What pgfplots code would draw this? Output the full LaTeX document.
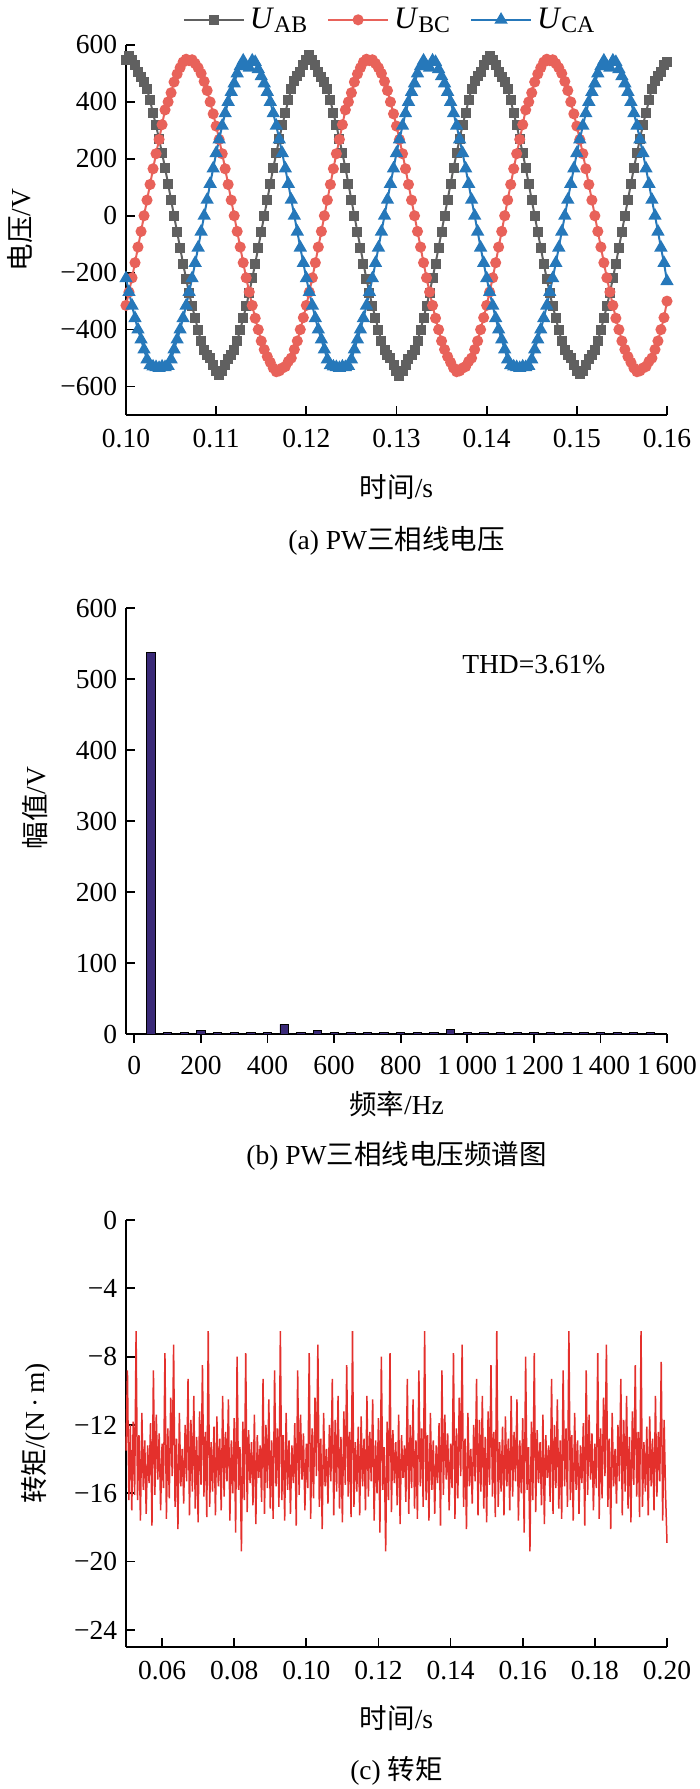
\documentclass[border=0pt]{standalone}
\usepackage{fontspec}
\setmainfont{Liberation Serif}
\newfontfamily\cjk{Noto Sans CJK SC}
\usepackage{pgfplots}
\pgfplotsset{compat=1.18}
\usepackage{pgfplotstable}

\definecolor{cAB}{RGB}{96,96,96}
\definecolor{cBC}{RGB}{232,98,90}
\definecolor{cCA}{RGB}{38,120,186}
\definecolor{cBar}{RGB}{58,42,120}
\definecolor{cTq}{RGB}{228,48,44}

\pgfplotstableread{
t AB BC CA
0.10000 548 -315 -220
0.10033 562 -268 -268
0.10067 548 -218 -316
0.10100 530 -165 -360
0.10133 505 -110 -400
0.10167 488 -55 -435
0.10200 470 0 -470
0.10233 445 55 -505
0.10267 405 110 -525
0.10300 360 165 -530
0.10333 318 218 -532
0.10367 268 268 -535
0.10400 220 320 -530
0.10433 168 372 -532
0.10467 112 400 -528
0.10500 55 432 -505
0.10533 0 470 -470
0.10567 -58 498 -435
0.10600 -112 520 -400
0.10633 -168 540 -360
0.10667 -222 550 -316
0.10700 -272 545 -268
0.10733 -318 548 -220
0.10767 -360 535 -166
0.10800 -402 520 -112
0.10833 -440 500 -56
0.10867 -470 472 0
0.10900 -488 440 56
0.10933 -500 400 112
0.10967 -525 358 166
0.11000 -545 315 220
0.11033 -558 268 268
0.11067 -545 218 316
0.11100 -525 165 360
0.11133 -505 110 400
0.11167 -490 55 435
0.11200 -470 0 465
0.11233 -440 -55 500
0.11267 -400 -110 525
0.11300 -360 -165 545
0.11333 -318 -218 525
0.11367 -270 -268 520
0.11400 -220 -315 545
0.11433 -168 -360 540
0.11467 -112 -400 515
0.11500 -56 -440 490
0.11533 0 -470 465
0.11567 56 -495 435
0.11600 112 -515 400
0.11633 168 -535 360
0.11667 220 -548 316
0.11700 270 -545 268
0.11733 318 -535 220
0.11767 362 -530 166
0.11800 405 -512 112
0.11833 445 -500 56
0.11867 475 -470 0
0.11900 490 -440 -56
0.11933 505 -400 -112
0.11967 528 -358 -166
0.12000 548 -315 -220
0.12033 565 -268 -268
0.12067 548 -218 -316
0.12100 530 -165 -360
0.12133 505 -110 -400
0.12167 488 -55 -435
0.12200 470 0 -470
0.12233 445 55 -505
0.12267 405 110 -525
0.12300 360 165 -530
0.12333 318 218 -532
0.12367 268 268 -535
0.12400 220 320 -530
0.12433 168 372 -532
0.12467 112 400 -528
0.12500 55 432 -505
0.12533 0 470 -470
0.12567 -58 498 -435
0.12600 -112 520 -400
0.12633 -168 540 -360
0.12667 -222 550 -316
0.12700 -272 545 -268
0.12733 -318 548 -220
0.12767 -360 535 -166
0.12800 -402 520 -112
0.12833 -440 500 -56
0.12867 -470 472 0
0.12900 -488 440 56
0.12933 -500 400 112
0.12967 -525 358 166
0.13000 -545 315 220
0.13033 -562 268 268
0.13067 -545 218 316
0.13100 -525 165 360
0.13133 -505 110 400
0.13167 -490 55 435
0.13200 -470 0 465
0.13233 -440 -55 500
0.13267 -400 -110 525
0.13300 -360 -165 545
0.13333 -318 -218 525
0.13367 -270 -268 520
0.13400 -220 -315 545
0.13433 -168 -360 540
0.13467 -112 -400 515
0.13500 -56 -440 490
0.13533 0 -470 465
0.13567 56 -495 435
0.13600 112 -515 400
0.13633 168 -535 360
0.13667 220 -548 316
0.13700 270 -545 268
0.13733 318 -535 220
0.13767 362 -530 166
0.13800 405 -512 112
0.13833 445 -500 56
0.13867 475 -470 0
0.13900 490 -440 -56
0.13933 505 -400 -112
0.13967 528 -358 -166
0.14000 548 -315 -220
0.14033 563 -268 -268
0.14067 548 -218 -316
0.14100 530 -165 -360
0.14133 505 -110 -400
0.14167 488 -55 -435
0.14200 470 0 -470
0.14233 445 55 -505
0.14267 405 110 -525
0.14300 360 165 -530
0.14333 318 218 -532
0.14367 268 268 -535
0.14400 220 320 -530
0.14433 168 372 -532
0.14467 112 400 -528
0.14500 55 432 -505
0.14533 0 470 -470
0.14567 -58 498 -435
0.14600 -112 520 -400
0.14633 -168 540 -360
0.14667 -222 550 -316
0.14700 -272 545 -268
0.14733 -318 548 -220
0.14767 -360 535 -166
0.14800 -402 520 -112
0.14833 -440 500 -56
0.14867 -470 472 0
0.14900 -488 440 56
0.14933 -500 400 112
0.14967 -525 358 166
0.15000 -545 315 220
0.15033 -556 268 268
0.15067 -545 218 316
0.15100 -525 165 360
0.15133 -505 110 400
0.15167 -490 55 435
0.15200 -470 0 465
0.15233 -440 -55 500
0.15267 -400 -110 525
0.15300 -360 -165 545
0.15333 -318 -218 525
0.15367 -270 -268 520
0.15400 -220 -315 545
0.15433 -168 -360 540
0.15467 -112 -400 515
0.15500 -56 -440 490
0.15533 0 -470 465
0.15567 56 -495 435
0.15600 112 -515 400
0.15633 168 -535 360
0.15667 220 -548 316
0.15700 270 -545 268
0.15733 318 -535 220
0.15767 362 -530 166
0.15800 405 -512 112
0.15833 445 -500 56
0.15867 475 -470 0
0.15900 490 -440 -56
0.15933 505 -400 -112
0.15967 528 -358 -166
0.16000 540 -300 -230
}\voltdata

\pgfplotstableread{
f A
50 537
100 2.0
150 2.0
200 4.5
250 2.0
300 2.0
350 2.2
400 2.5
450 13.5
500 2.0
550 5.5
600 1.8
650 2.5
700 1.8
750 1.8
800 1.8
850 2.0
900 1.8
950 7
1000 1.8
1050 2.2
1100 2.0
1150 1.8
1200 1.8
1250 1.8
1300 1.8
1350 1.8
1400 2.0
1450 2.2
1500 1.8
1550 1.8
}\specdata

\pgfplotstableread[row sep=\\]{
t T\\
0.0500 -13.5\\ 0.0504 -8.8\\ 0.0508 -16.4\\ 0.0512 -12.0\\ 0.0516 -17.0\\ 0.0520 -11.8\\ 0.0524 -16.1\\
0.0528 -6.5\\ 0.0532 -16.4\\ 0.0536 -12.6\\ 0.0540 -17.6\\ 0.0544 -11.3\\ 0.0548 -15.8\\ 0.0552 -12.9\\ 0.0556 -17.2\\ 0.0560 -13.2\\ 0.0564 -15.4\\
0.0568 -11.9\\ 0.0572 -17.9\\ 0.0576 -8.8\\ 0.0580 -16.1\\ 0.0584 -11.4\\ 0.0588 -15.2\\ 0.0592 -12.5\\ 0.0596 -17.0\\ 0.0600 -13.1\\ 0.0604 -15.7\\
0.0608 -7.8\\ 0.0612 -17.5\\ 0.0616 -12.2\\ 0.0620 -16.3\\ 0.0624 -10.4\\ 0.0628 -15.0\\ 0.0632 -7.3\\ 0.0636 -16.8\\ 0.0640 -12.8\\ 0.0644 -18.1\\
0.0648 -11.3\\ 0.0652 -15.6\\ 0.0656 -13.4\\ 0.0660 -16.6\\ 0.0664 -12.0\\ 0.0668 -15.3\\ 0.0672 -9.3\\ 0.0676 -17.3\\ 0.0680 -11.7\\ 0.0684 -15.9\\
0.0688 -10.3\\ 0.0692 -16.9\\ 0.0696 -12.7\\ 0.0700 -17.7\\ 0.0704 -11.2\\ 0.0708 -15.5\\ 0.0712 -8.5\\ 0.0716 -16.2\\ 0.0720 -12.4\\ 0.0724 -17.4\\
0.0728 -6.5\\ 0.0732 -16.8\\ 0.0736 -13.0\\ 0.0740 -15.9\\ 0.0744 -12.1\\ 0.0748 -17.3\\ 0.0752 -11.5\\ 0.0756 -15.6\\ 0.0760 -12.8\\ 0.0764 -17.0\\
0.0768 -10.3\\ 0.0772 -16.2\\ 0.0776 -12.4\\ 0.0780 -15.3\\ 0.0784 -10.5\\ 0.0788 -17.6\\ 0.0792 -12.9\\ 0.0796 -16.0\\ 0.0800 -11.6\\ 0.0804 -18.3\\
0.0808 -8.0\\ 0.0812 -15.8\\ 0.0816 -13.3\\ 0.0820 -19.4\\ 0.0824 -11.8\\ 0.0828 -16.4\\ 0.0832 -7.8\\ 0.0836 -17.1\\ 0.0840 -12.3\\ 0.0844 -15.4\\
0.0848 -13.0\\ 0.0852 -16.7\\ 0.0856 -11.4\\ 0.0860 -17.8\\ 0.0864 -12.6\\ 0.0868 -15.1\\ 0.0872 -13.2\\ 0.0876 -16.5\\ 0.0880 -9.3\\ 0.0884 -17.2\\
0.0888 -12.0\\ 0.0892 -15.7\\ 0.0896 -10.5\\ 0.0900 -16.9\\ 0.0904 -12.9\\ 0.0908 -17.5\\ 0.0912 -8.8\\ 0.0916 -15.6\\ 0.0920 -12.2\\ 0.0924 -16.8\\
0.0928 -6.5\\ 0.0932 -16.4\\ 0.0936 -12.6\\ 0.0940 -17.6\\ 0.0944 -11.3\\ 0.0948 -15.8\\ 0.0952 -12.9\\ 0.0956 -17.2\\ 0.0960 -13.2\\ 0.0964 -15.4\\
0.0968 -11.9\\ 0.0972 -17.9\\ 0.0976 -8.8\\ 0.0980 -16.1\\ 0.0984 -11.4\\ 0.0988 -15.2\\ 0.0992 -12.5\\ 0.0996 -17.0\\ 0.1000 -13.1\\ 0.1004 -15.7\\
0.1008 -7.8\\ 0.1012 -17.5\\ 0.1016 -12.2\\ 0.1020 -16.3\\ 0.1024 -10.4\\ 0.1028 -15.0\\ 0.1032 -7.3\\ 0.1036 -16.8\\ 0.1040 -12.8\\ 0.1044 -18.1\\
0.1048 -11.3\\ 0.1052 -15.6\\ 0.1056 -13.4\\ 0.1060 -16.6\\ 0.1064 -12.0\\ 0.1068 -15.3\\ 0.1072 -9.3\\ 0.1076 -17.3\\ 0.1080 -11.7\\ 0.1084 -15.9\\
0.1088 -10.3\\ 0.1092 -16.9\\ 0.1096 -12.7\\ 0.1100 -17.7\\ 0.1104 -11.2\\ 0.1108 -15.5\\ 0.1112 -8.5\\ 0.1116 -16.2\\ 0.1120 -12.4\\ 0.1124 -17.4\\
0.1128 -6.5\\ 0.1132 -16.8\\ 0.1136 -13.0\\ 0.1140 -15.9\\ 0.1144 -12.1\\ 0.1148 -17.3\\ 0.1152 -11.5\\ 0.1156 -15.6\\ 0.1160 -12.8\\ 0.1164 -17.0\\
0.1168 -10.3\\ 0.1172 -16.2\\ 0.1176 -12.4\\ 0.1180 -15.3\\ 0.1184 -10.5\\ 0.1188 -17.6\\ 0.1192 -12.9\\ 0.1196 -16.0\\ 0.1200 -11.6\\ 0.1204 -18.3\\
0.1208 -8.0\\ 0.1212 -15.8\\ 0.1216 -13.3\\ 0.1220 -19.4\\ 0.1224 -11.8\\ 0.1228 -16.4\\ 0.1232 -7.8\\ 0.1236 -17.1\\ 0.1240 -12.3\\ 0.1244 -15.4\\
0.1248 -13.0\\ 0.1252 -16.7\\ 0.1256 -11.4\\ 0.1260 -17.8\\ 0.1264 -12.6\\ 0.1268 -15.1\\ 0.1272 -13.2\\ 0.1276 -16.5\\ 0.1280 -9.3\\ 0.1284 -17.2\\
0.1288 -12.0\\ 0.1292 -15.7\\ 0.1296 -10.5\\ 0.1300 -16.9\\ 0.1304 -12.9\\ 0.1308 -17.5\\ 0.1312 -8.8\\ 0.1316 -15.6\\ 0.1320 -12.2\\ 0.1324 -16.8\\
0.1328 -6.5\\ 0.1332 -16.4\\ 0.1336 -12.6\\ 0.1340 -17.6\\ 0.1344 -11.3\\ 0.1348 -15.8\\ 0.1352 -12.9\\ 0.1356 -17.2\\ 0.1360 -13.2\\ 0.1364 -15.4\\
0.1368 -11.9\\ 0.1372 -17.9\\ 0.1376 -8.8\\ 0.1380 -16.1\\ 0.1384 -11.4\\ 0.1388 -15.2\\ 0.1392 -12.5\\ 0.1396 -17.0\\ 0.1400 -13.1\\ 0.1404 -15.7\\
0.1408 -7.8\\ 0.1412 -17.5\\ 0.1416 -12.2\\ 0.1420 -16.3\\ 0.1424 -10.4\\ 0.1428 -15.0\\ 0.1432 -7.3\\ 0.1436 -16.8\\ 0.1440 -12.8\\ 0.1444 -18.1\\
0.1448 -11.3\\ 0.1452 -15.6\\ 0.1456 -13.4\\ 0.1460 -16.6\\ 0.1464 -12.0\\ 0.1468 -15.3\\ 0.1472 -9.3\\ 0.1476 -17.3\\ 0.1480 -11.7\\ 0.1484 -15.9\\
0.1488 -10.3\\ 0.1492 -16.9\\ 0.1496 -12.7\\ 0.1500 -17.7\\ 0.1504 -11.2\\ 0.1508 -15.5\\ 0.1512 -8.5\\ 0.1516 -16.2\\ 0.1520 -12.4\\ 0.1524 -17.4\\
0.1528 -6.5\\ 0.1532 -16.8\\ 0.1536 -13.0\\ 0.1540 -15.9\\ 0.1544 -12.1\\ 0.1548 -17.3\\ 0.1552 -11.5\\ 0.1556 -15.6\\ 0.1560 -12.8\\ 0.1564 -17.0\\
0.1568 -10.3\\ 0.1572 -16.2\\ 0.1576 -12.4\\ 0.1580 -15.3\\ 0.1584 -10.5\\ 0.1588 -17.6\\ 0.1592 -12.9\\ 0.1596 -16.0\\ 0.1600 -11.6\\ 0.1604 -18.3\\
0.1608 -8.0\\ 0.1612 -15.8\\ 0.1616 -13.3\\ 0.1620 -19.4\\ 0.1624 -11.8\\ 0.1628 -16.4\\ 0.1632 -7.8\\ 0.1636 -17.1\\ 0.1640 -12.3\\ 0.1644 -15.4\\
0.1648 -13.0\\ 0.1652 -16.7\\ 0.1656 -11.4\\ 0.1660 -17.8\\ 0.1664 -12.6\\ 0.1668 -15.1\\ 0.1672 -13.2\\ 0.1676 -16.5\\ 0.1680 -9.3\\ 0.1684 -17.2\\
0.1688 -12.0\\ 0.1692 -15.7\\ 0.1696 -10.5\\ 0.1700 -16.9\\ 0.1704 -12.9\\ 0.1708 -17.5\\ 0.1712 -8.8\\ 0.1716 -15.6\\ 0.1720 -12.2\\ 0.1724 -16.8\\
0.1728 -6.5\\ 0.1732 -16.4\\ 0.1736 -12.6\\ 0.1740 -17.6\\ 0.1744 -11.3\\ 0.1748 -15.8\\ 0.1752 -12.9\\ 0.1756 -17.2\\ 0.1760 -13.2\\ 0.1764 -15.4\\
0.1768 -11.9\\ 0.1772 -17.9\\ 0.1776 -8.8\\ 0.1780 -16.1\\ 0.1784 -11.4\\ 0.1788 -15.2\\ 0.1792 -12.5\\ 0.1796 -17.0\\ 0.1800 -13.1\\ 0.1804 -15.7\\
0.1808 -7.8\\ 0.1812 -17.5\\ 0.1816 -12.2\\ 0.1820 -16.3\\ 0.1824 -10.4\\ 0.1828 -15.0\\ 0.1832 -7.3\\ 0.1836 -16.8\\ 0.1840 -12.8\\ 0.1844 -18.1\\
0.1848 -11.3\\ 0.1852 -15.6\\ 0.1856 -13.4\\ 0.1860 -16.6\\ 0.1864 -12.0\\ 0.1868 -15.3\\ 0.1872 -9.3\\ 0.1876 -17.3\\ 0.1880 -11.7\\ 0.1884 -15.9\\
0.1888 -10.3\\ 0.1892 -16.9\\ 0.1896 -12.7\\ 0.1900 -17.7\\ 0.1904 -11.2\\ 0.1908 -15.5\\ 0.1912 -8.5\\ 0.1916 -16.2\\ 0.1920 -12.4\\ 0.1924 -17.4\\
0.1928 -6.5\\ 0.1932 -16.8\\ 0.1936 -13.0\\ 0.1940 -15.9\\ 0.1944 -12.1\\ 0.1948 -17.3\\ 0.1952 -11.5\\ 0.1956 -15.6\\ 0.1960 -12.8\\ 0.1964 -17.0\\
0.1968 -10.3\\ 0.1972 -16.2\\ 0.1976 -12.4\\ 0.1980 -15.3\\ 0.1984 -8.3\\ 0.1988 -17.6\\ 0.1992 -11.7\\ 0.1996 -16.0\\ 0.2000 -18.9\\
}\torquedata

\newcommand{\tfont}{\fontsize{11}{13}\selectfont}
\newcommand{\ULeg}[1]{{\fontsize{12.5}{14}\selectfont\textit{U}}{\fontsize{9.5}{10}\selectfont\raisebox{-1.8pt}{#1}}}

\pgfplotsset{
  myaxis/.style={
    scale only axis,
    anchor=south west,
    axis lines=left,
    axis line style={-, line width=0.7pt, black},
    tick align=inside,
    major tick length=3.5pt,
    tick style={black, line width=0.7pt},
    tick label style={font=\tfont},
    label style={font=\tfont},
    xticklabel style={yshift=-2pt},
    scaled ticks=false,
    clip=false,
  }
}

\begin{document}
\begin{tikzpicture}
\useasboundingbox (0,0) rectangle (280pt,715.6pt);

% ---------- (a) ----------
\begin{axis}[myaxis,
  at={(50.4pt,549.6pt)}, width=216.4pt, height=148pt,
  xmin=0.10, xmax=0.16, ymin=-700, ymax=600,
  xtick={0.10,0.11,0.12,0.13,0.14,0.15,0.16},
  xticklabels={0.10,0.11,0.12,0.13,0.14,0.15,0.16},
  ytick={-600,-400,-200,0,200,400,600},
  yticklabels={−600,−400,−200,0,200,400,600},
  xlabel={{\cjk 时间}/s},
  ylabel={{\cjk 电压}/V},
  xlabel style={at={(axis description cs:0.5,-0.195)}, anchor=center},
  ylabel style={at={(axis description cs:-0.196,0.5)}, anchor=center},
  legend columns=3,
  legend style={draw=none, fill=none, at={(axis description cs:0.49,1.068)}, anchor=center,
    /tikz/every even column/.append style={column sep=6pt}},
  legend image code/.code={\draw[mark repeat=2,mark phase=2,#1] plot coordinates {(0pt,0pt) (12pt,0pt) (24pt,0pt)};},
]
\addplot[cAB, line width=0.8pt, mark=square*, mark size=1.6pt, mark options={solid, fill=cAB, draw=cAB}] table[x=t, y=AB] {\voltdata};
\addlegendentry{\ULeg{AB}}
\addplot[cBC, line width=0.8pt, mark=*, mark size=1.8pt, mark options={solid, fill=cBC, draw=cBC}] table[x=t, y=BC] {\voltdata};
\addlegendentry{\ULeg{BC}}
\addplot[cCA, line width=0.8pt, mark=triangle*, mark size=2.3pt, mark options={solid, fill=cCA, draw=cCA}] table[x=t, y=CA] {\voltdata};
\addlegendentry{\ULeg{CA}}
\node[font=\tfont] at (axis description cs:0.5,-0.34) {(a) PW{\cjk 三相线电压}};
\end{axis}

% ---------- (b) ----------
\begin{axis}[myaxis,
  at={(50.4pt,302pt)}, width=216.4pt, height=170.4pt,
  xmin=-25, xmax=1600, ymin=0, ymax=600,
  ybar, bar width=25,
  xtick={0,200,400,600,800,1000,1200,1400,1600},
  xticklabels={0,200,400,600,800,1\,000,1\,200,1\,400,1\,600},
  ytick={0,100,200,300,400,500,600},
  yticklabels={0,100,200,300,400,500,600},
  xlabel={{\cjk 频率}/Hz},
  ylabel={{\cjk 幅值}/V},
  xlabel style={at={(axis description cs:0.5,-0.164)}, anchor=center},
  ylabel style={at={(axis description cs:-0.168,0.53)}, anchor=center},
]
\addplot[fill=cBar, draw=black, line width=0.3pt] table[x=f, y=A] {\specdata};
\node[font=\tfont] at (axis cs:1200,520) {THD=3.61\%};
\node[font=\tfont] at (axis description cs:0.5,-0.286) {(b) PW{\cjk 三相线电压频谱图}};
\end{axis}

% ---------- (c) ----------
\begin{axis}[myaxis,
  at={(50.4pt,56.8pt)}, width=216.4pt, height=170.8pt,
  xmin=0.05, xmax=0.20, ymin=-25, ymax=0,
  xtick={0.06,0.08,0.10,0.12,0.14,0.16,0.18,0.20},
  xticklabels={0.06,0.08,0.10,0.12,0.14,0.16,0.18,0.20},
  ytick={-24,-20,-16,-12,-8,-4,0},
  yticklabels={−24,−20,−16,−12,−8,−4,0},
  xlabel={{\cjk 时间}/s},
  ylabel={{\cjk 转矩}/(N\,·\,m)},
  xlabel style={at={(axis description cs:0.5,-0.166)}, anchor=center},
  ylabel style={at={(axis description cs:-0.166,0.5)}, anchor=center},
]
\addplot[cTq, line width=0.6pt, no marks] table[x=t, y=T] {\torquedata};
\node[font=\tfont] at (axis description cs:0.5,-0.29) {(c) {\cjk 转矩}};
\end{axis}
\end{tikzpicture}
\end{document}
